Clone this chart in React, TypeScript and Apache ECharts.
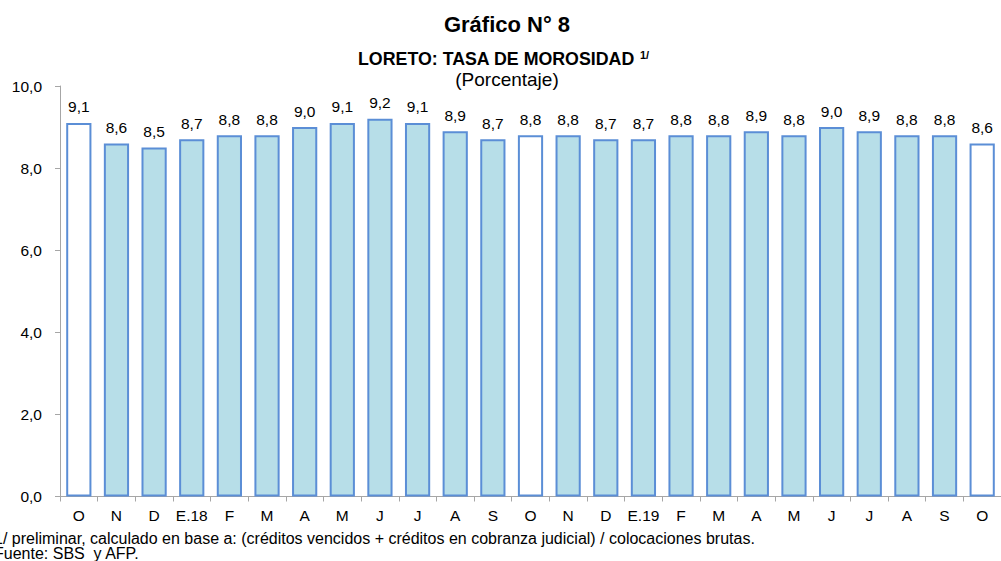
import React, { useEffect, useRef } from "react";
import * as echarts from "echarts";

const categories = ["O", "N", "D", "E.18", "F", "M", "A", "M", "J", "J", "A", "S", "O", "N", "D", "E.19", "F", "M", "A", "M", "J", "J", "A", "S", "O"];
const values = [9.1, 8.6, 8.5, 8.7, 8.8, 8.8, 9.0, 9.1, 9.2, 9.1, 8.9, 8.7, 8.8, 8.8, 8.7, 8.7, 8.8, 8.8, 8.9, 8.8, 9.0, 8.9, 8.8, 8.8, 8.6];
const yTicks = [0, 2, 4, 6, 8, 10];
const title = "Gráfico N° 8";
const subtitle = "LORETO: TASA DE MOROSIDAD";
const subtitleNote = "1/";
const unitLabel = "(Porcentaje)";
const footnotes = [
  "1/ preliminar, calculado en base a: (créditos vencidos + créditos en cobranza judicial) / colocaciones brutas.",
  "Fuente: SBS  y AFP.",
];

const FONT = "Liberation Sans, Arial, sans-serif";
const fmt = (v: number) => v.toFixed(1).replace(".", ",");

export default function App() {
  const ref = useRef<HTMLDivElement>(null);
  useEffect(() => {
    if (!ref.current) return;
    const chart = echarts.init(ref.current, null, { renderer: "svg" });
    const data = values.map((v, i) => ({
      value: v,
      itemStyle: { color: categories[i] === "O" ? "#FFFFFF" : "#B7DEE8" },
    }));
    chart.setOption({
      animation: false,
      textStyle: { fontFamily: FONT },
      grid: { left: 60, top: 86, width: 947.5, bottom: 64.5, containLabel: false },
      xAxis: {
        type: "category",
        data: categories,
        axisLine: { show: true, lineStyle: { color: "#A6A6A6", width: 1 } },
        axisTick: { show: true, interval: 0, length: 5, lineStyle: { color: "#A6A6A6" } },
        axisLabel: { interval: 0, color: "#000", fontSize: 15.5, margin: 11, fontFamily: FONT },
      },
      yAxis: {
        type: "value",
        min: yTicks[0],
        max: yTicks[yTicks.length - 1],
        interval: yTicks[1] - yTicks[0],
        axisLine: { show: true, lineStyle: { color: "#A6A6A6", width: 1 } },
        axisTick: { show: true, length: 5, lineStyle: { color: "#A6A6A6" } },
        splitLine: { show: false },
        axisLabel: { color: "#000", fontSize: 15.5, margin: 18, formatter: (v: number) => fmt(v), fontFamily: FONT },
      },
      series: [
        {
          type: "bar",
          data,
          barWidth: "67%",
          itemStyle: { borderColor: "#5B8ED6", borderWidth: 2 },
          label: {
            show: true,
            position: "top",
            distance: 8,
            color: "#000",
            fontSize: 15.5,
            fontFamily: FONT,
            formatter: (p: any) => fmt(p.value),
          },
        },
      ],
      graphic: [
        { type: "text", x: 507, y: 13, style: { text: title, font: `bold 22px ${FONT}`, fill: "#000", textAlign: "center" } },
        { type: "text", x: 358, y: 50, style: { text: subtitle, font: `bold 17.8px ${FONT}`, fill: "#000" } },
        { type: "text", x: 640, y: 49, style: { text: subtitleNote, font: `bold 11px ${FONT}`, fill: "#000" } },
        { type: "text", x: 507, y: 70, style: { text: unitLabel, font: `19px ${FONT}`, fill: "#000", textAlign: "center" } },
        { type: "text", x: -6, y: 530, style: { text: footnotes[0], font: `16px ${FONT}`, fill: "#000" } },
        { type: "text", x: -6, y: 545, style: { text: footnotes[1], font: `16px ${FONT}`, fill: "#000" } },
      ],
    });
    return () => chart.dispose();
  }, []);
  return <div ref={ref} style={{ width: 1001, height: 561, position: "absolute", left: 0, top: 0 }} />;
}
